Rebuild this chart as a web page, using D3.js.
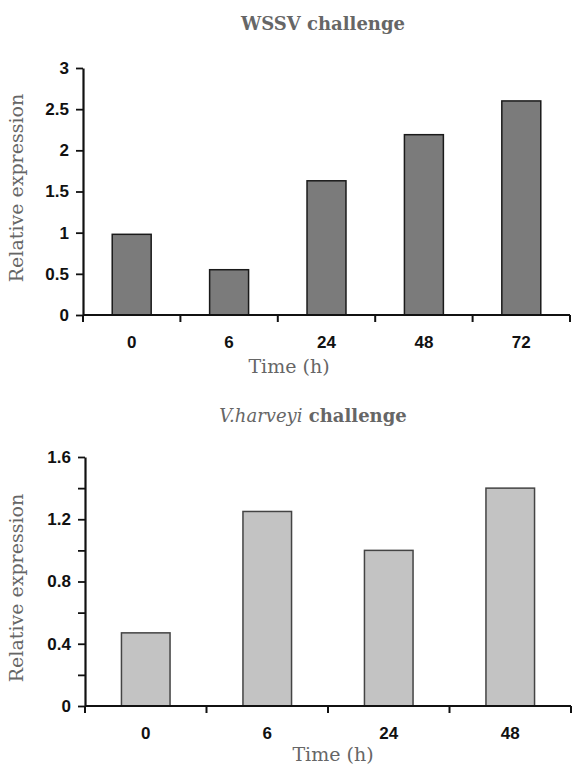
<!DOCTYPE html>
<html><head><meta charset="utf-8">
<script src="https://cdn.jsdelivr.net/npm/d3@7"></script>
<style>body{margin:0;background:#fff}svg{display:block}</style>
</head><body>
<svg id="c" width="573" height="765"></svg>
<script>
const wssvTimes = ["0","6","24","48","72"];
const wssvValues = [0.98, 0.55, 1.63, 2.19, 2.60];
const wssvTicks = [0, 0.5, 1, 1.5, 2, 2.5, 3];
const vhTimes = ["0","6","24","48"];
const vhValues = [0.47, 1.25, 1.00, 1.40];
const vhTicks = [0, 0.2, 0.4, 0.6, 0.8, 1.0, 1.2, 1.4, 1.6];
const vhLabels = [0, 0.4, 0.8, 1.2, 1.6];

const svg = d3.select("#c");

function panel(o){
  const g = svg.append("g");
  const x = d3.scaleBand().domain(o.cats).range([o.x0, o.x1]).padding(0);
  const y = d3.scaleLinear().domain([0, o.ymax]).range([o.yb, o.yt]);
  g.selectAll("rect").data(o.vals).join("rect")
    .attr("x", (d,i)=> x(o.cats[i]) + x.bandwidth()*0.3)
    .attr("width", x.bandwidth()*0.4)
    .attr("y", d=> y(d))
    .attr("height", d=> y(0)-y(d))
    .attr("fill", o.fill).attr("stroke", o.stroke).attr("stroke-width", 1.5);
  const ya = d3.axisLeft(y).tickValues(o.ticks).tickSize(7).tickSizeOuter(0).tickPadding(7)
    .tickFormat(d => o.labels.some(l=>Math.abs(l-d)<1e-9) ? o.fmt(d) : "");
  const yg = g.append("g").attr("transform",`translate(${o.x0},0)`).call(ya);
  const xa = d3.axisBottom(x).tickSize(0).tickSizeOuter(0).tickPadding(21);
  const xg = g.append("g").attr("transform",`translate(0,${o.yb})`).call(xa);
  xg.select(".domain").remove();
  g.append("line").attr("x1", o.x0).attr("x2", o.x1).attr("y1", o.yb).attr("y2", o.yb)
    .attr("stroke","#111").attr("stroke-width",2.2);
  const bounds = o.cats.map(c=>x(c)).concat([o.x1]);
  g.selectAll("line.bt").data(bounds).join("line").attr("class","bt")
    .attr("x1",d=>d).attr("x2",d=>d).attr("y1",o.yb).attr("y2",o.yb+7)
    .attr("stroke","#111").attr("stroke-width",2);
  yg.select(".domain").attr("stroke","#111").attr("stroke-width",2.2);
  yg.selectAll(".tick line").attr("stroke","#111").attr("stroke-width",1.8);
  [yg, xg].forEach(a => a.selectAll("text")
    .attr("font-family","'Liberation Sans', Arial, sans-serif")
    .attr("font-weight","bold").attr("font-size",17).attr("fill","#111"));
  g.append("text").attr("transform",`translate(${o.ytx},${o.yty}) rotate(-90)`)
    .attr("text-anchor","middle")
    .attr("font-family","'DejaVu Serif', serif").attr("font-size",19).attr("fill","#666")
    .text("Relative expression");
  g.append("text").attr("x",o.xtx).attr("y",o.xty).attr("text-anchor","middle")
    .attr("font-family","'DejaVu Serif', serif").attr("font-size",19).attr("fill","#666")
    .text("Time (h)");
  return g;
}

panel({cats:wssvTimes, vals:wssvValues, ticks:wssvTicks, labels:wssvTicks, fmt:d3.format(""),
  ymax:3, x0:83, x1:570, yb:315, yt:68, fill:"#7b7b7b", stroke:"#1a1a1a",
  ytx:23, yty:188, xtx:289, xty:373});
panel({cats:vhTimes, vals:vhValues, ticks:vhTicks, labels:vhLabels, fmt:d3.format(".1f"),
  ymax:1.6, x0:85, x1:571, yb:706, yt:457, fill:"#c3c3c3", stroke:"#444",
  ytx:23, yty:588, xtx:333, xty:761});

svg.selectAll("text").filter(function(){return this.textContent==="0.0";}).text("0");

const t1 = svg.append("text").attr("x",323).attr("y",30).attr("text-anchor","middle")
  .attr("font-family","'DejaVu Serif', serif").attr("font-size",18).attr("font-weight","bold").attr("fill","#666");
t1.text("WSSV challenge");
const t2 = svg.append("text").attr("x",313).attr("y",422).attr("text-anchor","middle")
  .attr("font-family","'DejaVu Serif', serif").attr("font-size",18).attr("fill","#666");
t2.append("tspan").attr("font-style","italic").attr("font-weight","300").text("V.harveyi");
t2.append("tspan").attr("font-weight","bold").text(" challenge");
</script>
</body></html>
